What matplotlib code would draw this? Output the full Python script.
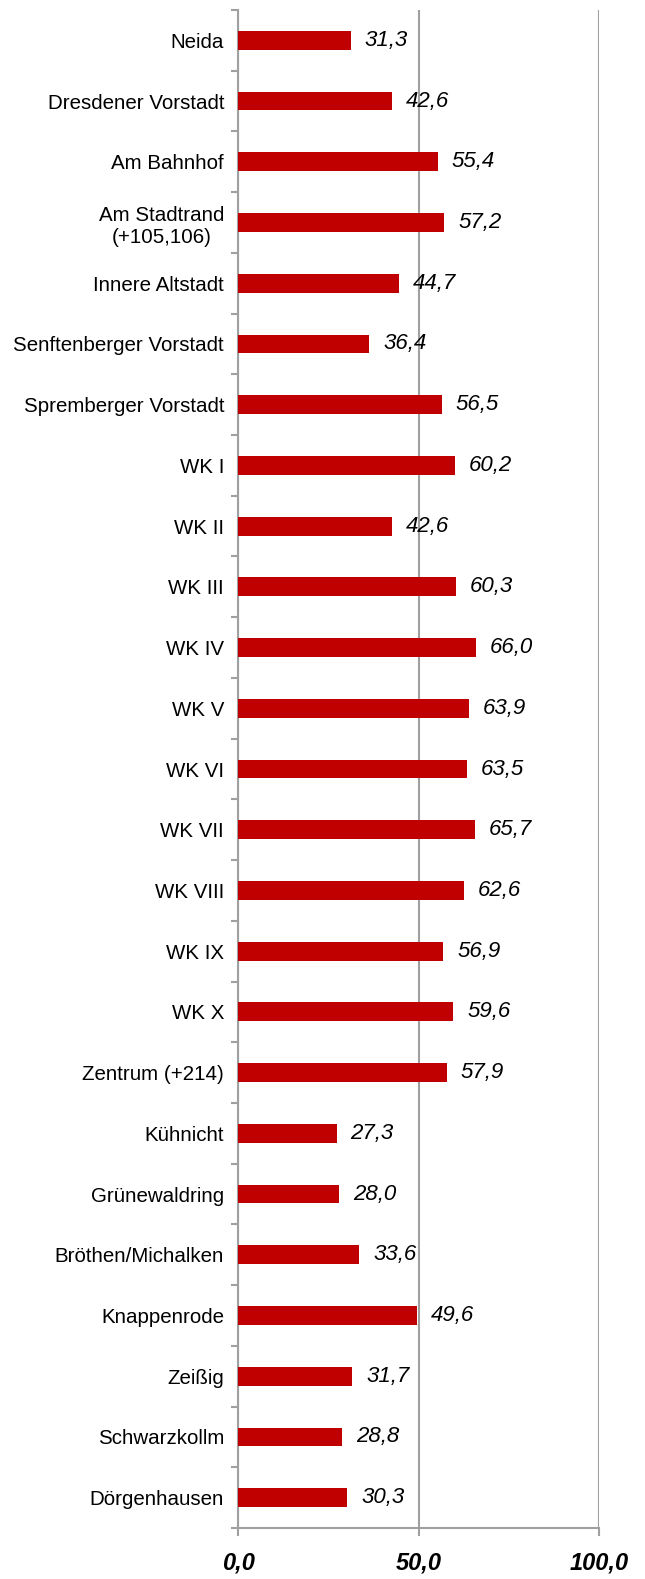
import matplotlib.pyplot as plt
import numpy as np

plt.rcParams['font.family'] = ['Liberation Sans', 'DejaVu Sans']

categories = ['Neida', 'Dresdener Vorstadt', 'Am Bahnhof', 'Am Stadtrand\n(+105,106)',
              'Innere Altstadt', 'Senftenberger Vorstadt', 'Spremberger Vorstadt',
              'WK I', 'WK II', 'WK III', 'WK IV', 'WK V', 'WK VI', 'WK VII', 'WK VIII',
              'WK IX', 'WK X', 'Zentrum (+214)', 'Kühnicht', 'Grünewaldring',
              'Bröthen/Michalken', 'Knappenrode', 'Zeißig', 'Schwarzkollm', 'Dörgenhausen']
values = [31.3, 42.6, 55.4, 57.2, 44.7, 36.4, 56.5, 60.2, 42.6, 60.3, 66.0, 63.9,
          63.5, 65.7, 62.6, 56.9, 59.6, 57.9, 27.3, 28.0, 33.6, 49.6, 31.7, 28.8, 30.3]
xticks = [0, 50, 100]
xtick_labels = ['0,0', '50,0', '100,0']

bar_color = '#C00000'
grey = '#A0A0A0'

fig = plt.figure(figsize=(6.45, 15.79), dpi=100)
ax = fig.add_axes([238 / 645, 51 / 1579, 361 / 645, 1518 / 1579])

n = len(categories)
y = np.arange(n)
ax.barh(y, values, height=0.31, color=bar_color, zorder=3)

# Wertbeschriftung rechts neben den Balken
for yi, v in zip(y, values):
    ax.annotate(f'{v:.1f}'.replace('.', ','), (v, yi), xytext=(10, 0),
                textcoords='offset points', ha='left', va='center',
                fontsize=16, style='italic', color='black', zorder=4)

ax.set_ylim(n - 0.5, -0.5)
ax.set_xlim(0, 100)

ax.set_yticks(y)
ax.set_yticklabels(categories, fontsize=14.8, multialignment='center')
ax.set_yticks(np.arange(-0.5, n, 1), minor=True)
ax.tick_params(axis='y', which='major', length=0, pad=10)
ax.tick_params(axis='y', which='minor', length=5, width=1.5, color=grey)

ax.set_xticks(xticks)
ax.set_xticklabels(xtick_labels, fontsize=17, fontweight='bold', style='italic')
ax.tick_params(axis='x', length=6, width=1.5, color=grey, pad=11)

ax.grid(axis='x', color=grey, linewidth=1.5, zorder=1)
for side in ['top', 'right']:
    ax.spines[side].set_visible(False)
for side in ['left', 'bottom']:
    ax.spines[side].set_color(grey)
    ax.spines[side].set_linewidth(1.5)

fig.savefig('out.png', dpi=100)
